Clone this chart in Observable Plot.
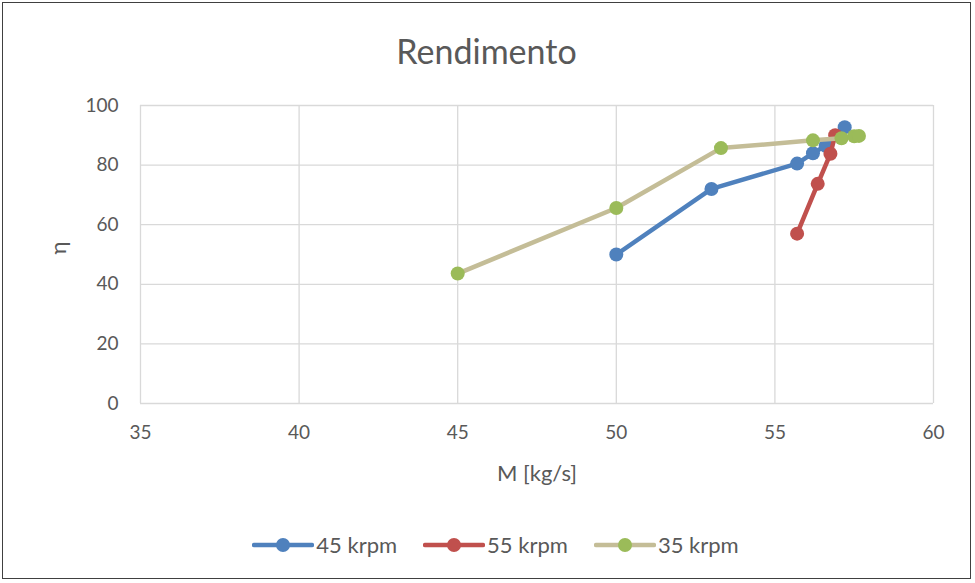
<!DOCTYPE html>
<html>
<head>
<meta charset="utf-8">
<script src="https://cdn.jsdelivr.net/npm/d3@7"></script>
<script src="https://cdn.jsdelivr.net/npm/@observablehq/plot@0.6"></script>
<style>
  html, body { margin: 0; padding: 0; background: #fff; }
  #frame { position: absolute; left: 2px; top: 2px; width: 969px; height: 577px; border: 1px solid #404040; box-sizing: border-box; overflow: hidden; font-family: Lato, "Open Sans", sans-serif; }
  #title { position: absolute; left: 0; top: 0; width: 100%; height: 86px; text-align: center; font-size: 34px; color: #595959; line-height: 96px; }
  #chart { position: absolute; left: -3px; top: 86px; width: 975px; }
  #chart svg { max-width: none !important; }
  #legend { position: absolute; left: 0; top: 528px; width: 100%; display: flex; justify-content: center; gap: 26px; font-size: 22px; color: #595959; padding-left: 18px; box-sizing: border-box; }
  .item { display: flex; align-items: center; gap: 2px; }
</style>
</head>
<body>
<div id="frame">
  <div id="title">Rendimento</div>
  <div id="chart"></div>
  <div id="legend"></div>
</div>
<script>
const seriesNames = ["45 krpm", "55 krpm", "35 krpm"];
const lineColors = ["#4F81BD", "#C0504D", "#C4BD97"];
const dotColors = ["#4F81BD", "#C0504D", "#9BBB59"];

const m45 = [50.0, 53.0, 55.7, 56.2, 56.6, 57.2];
const eta45 = [50.0, 72.0, 80.5, 84.0, 86.5, 92.7];
const m55 = [55.7, 56.35, 56.75, 56.9];
const eta55 = [57.0, 73.7, 83.8, 90.0];
const m35 = [45.0, 50.0, 53.3, 56.2, 57.1, 57.5, 57.65];
const eta35 = [43.6, 65.6, 85.7, 88.3, 89.0, 89.7, 89.8];

const xTicks = [35, 40, 45, 50, 55, 60];
const yTicks = [0, 20, 40, 60, 80, 100];

const xs = [m45, m55, m35];
const ys = [eta45, eta55, eta35];
const data = seriesNames.map((s, i) => xs[i].map((m, j) => ({series: s, m, eta: ys[i][j]})));

const marks = [
  Plot.gridX(xTicks, {stroke: "#d9d9d9", strokeOpacity: 1, strokeWidth: 1.3}),
  Plot.gridY(yTicks, {stroke: "#d9d9d9", strokeOpacity: 1, strokeWidth: 1.3}),
  Plot.axisX({ticks: xTicks, tickSize: 0, tickPadding: 22, fontSize: 19, color: "#595959", label: null}),
  Plot.axisY({ticks: yTicks, tickSize: 0, tickPadding: 22, fontSize: 19, color: "#595959", label: null}),
  Plot.text(["M [kg/s]"], {frameAnchor: "bottom", dy: 77, fontSize: 22, fill: "#595959"}),
  Plot.text(["η"], {frameAnchor: "left", dx: -82, rotate: -90, fontSize: 22, fill: "#595959"})
];
data.forEach((d, i) => {
  marks.push(Plot.line(d, {x: "m", y: "eta", stroke: lineColors[i], strokeWidth: 4.5}));
  marks.push(Plot.dot(d, {x: "m", y: "eta", fill: dotColors[i], r: 7}));
});

const chart = Plot.plot({
  width: 975,
  height: 417,
  marginLeft: 140,
  marginRight: 42,
  marginTop: 16,
  marginBottom: 103,
  style: {fontFamily: "Lato, 'Open Sans', sans-serif", overflow: "visible", background: "transparent"},
  x: {domain: [35, 60]},
  y: {domain: [0, 100]},
  marks
});
document.getElementById("chart").appendChild(chart);

const legend = document.getElementById("legend");
seriesNames.forEach((s, i) => {
  const item = document.createElement("div");
  item.className = "item";
  item.innerHTML = `<svg width="62" height="20"><line x1="2" x2="60" y1="10" y2="10" stroke="${lineColors[i]}" stroke-width="4.5" stroke-linecap="round"/><circle cx="31" cy="10" r="7" fill="${dotColors[i]}"/></svg><span>${s}</span>`;
  legend.appendChild(item);
});
</script>
</body>
</html>
